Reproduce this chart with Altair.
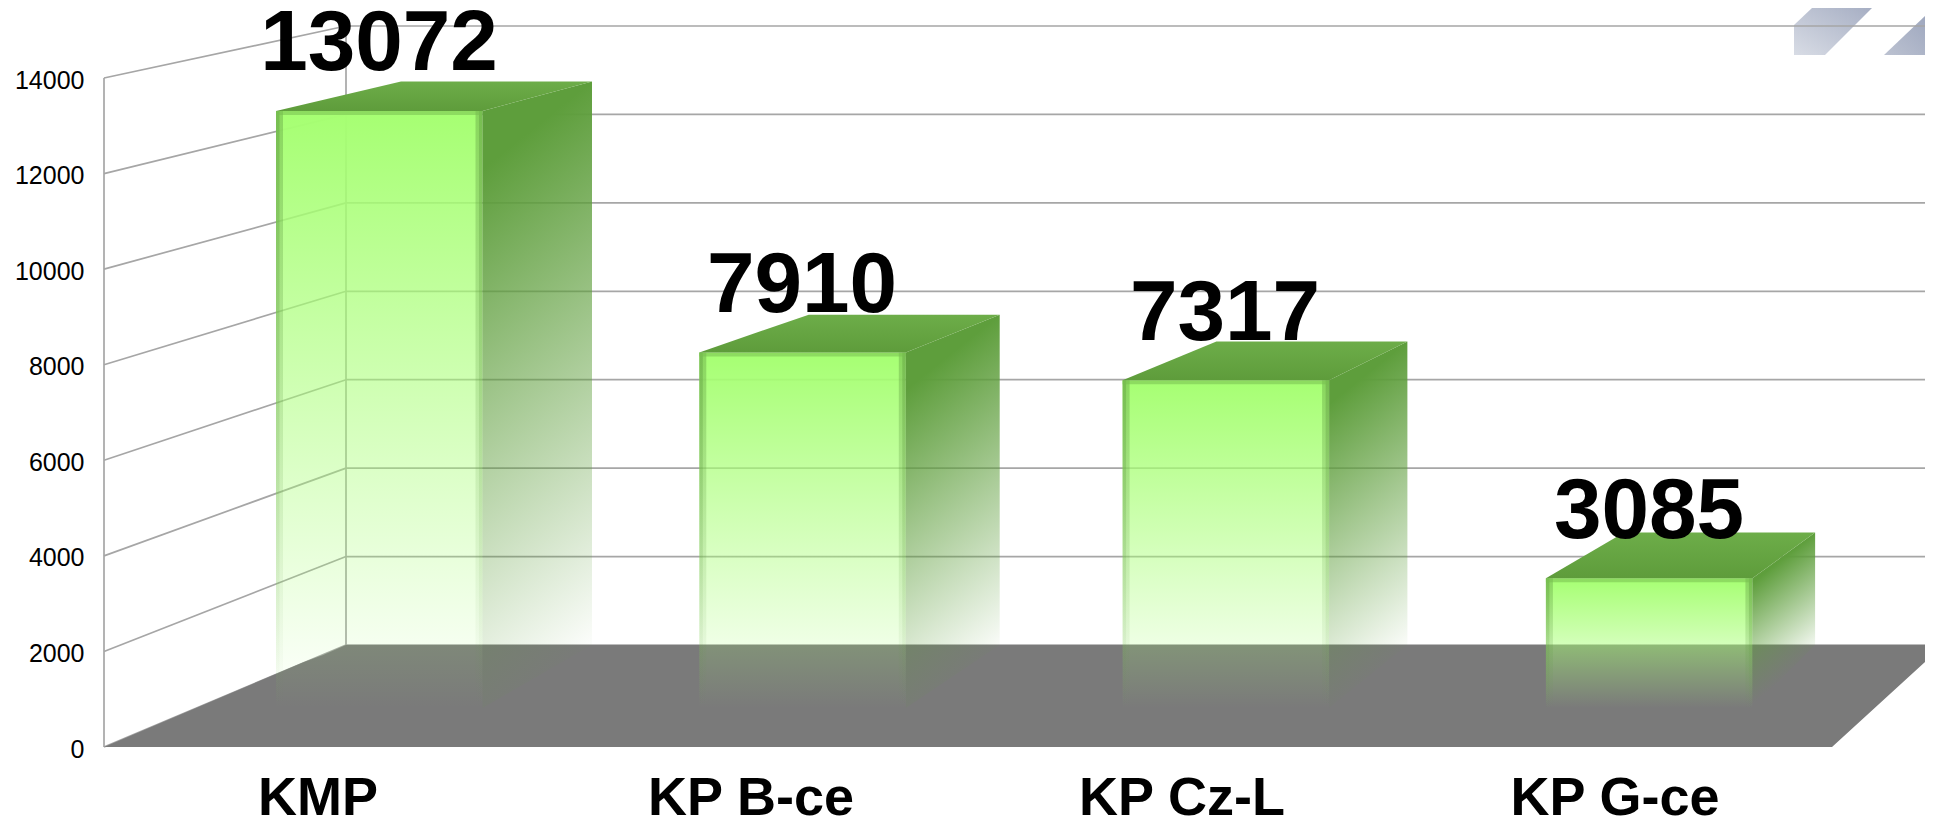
import altair as alt
import pandas as pd

categories = ["KMP", "KP B-ce", "KP Cz-L", "KP G-ce"]
values = [13072, 7910, 7317, 3085]
y_ticks = [0, 2000, 4000, 6000, 8000, 10000, 12000, 14000]

# Projection of the fake 3D scene
K = (747 - 78) / 14000          # px per value on the front plane
KB = (645 - 26) / 14000         # px per value on the back wall
yv = lambda py: (747 - py) / K  # page px -> value units of the y scale
xs = alt.Scale(domain=[104, 1925], range=[0, 1821], nice=False, zero=False)
ys = alt.Scale(domain=[yv(820), yv(8)], nice=False, zero=False)
y_axis = alt.Axis(
    values=y_ticks, title=None, domain=False, ticks=False, grid=False, labelPadding=20, labelOffset=2,
    labelFontSize=25, labelFont="Liberation Sans", labelColor="#000000", format="d", labelFlush=False,
)
X = alt.X("x:Q", scale=xs, axis=None)
Y = alt.Y("y:Q", scale=ys, axis=y_axis)
X2, Y2 = alt.X2("x2:Q"), alt.Y2("y2:Q")


def grad(stops, x1=0, y1=0, x2=0, y2=1):
    return alt.LinearGradient(
        gradient="linear", x1=x1, y1=y1, x2=x2, y2=y2,
        stops=[alt.GradientStop(color=c, offset=o) for o, c in stops],
    )


def hpoly(rows, fill):
    d = pd.DataFrame([{"x": a, "x2": b, "y": yv(p), "g": i}
                      for i, (p, a, b) in enumerate(rows)])
    return alt.Chart(d).mark_area(orient="horizontal", color=fill, line=False).encode(x=X, x2=X2, y=Y)


# walls
wall = pd.concat([
    pd.DataFrame({"x": [104, 346], "y": [t, yv(645 - KB * t)], "g": [f"l{t}", f"l{t}"]}) for t in y_ticks
] + [
    pd.DataFrame({"x": [346, 1925], "y": [yv(645 - KB * t)] * 2, "g": [f"b{t}", f"b{t}"]}) for t in y_ticks
] + [
    pd.DataFrame({"x": [104, 104], "y": [0, 14000], "g": ["v1", "v1"]}),
    pd.DataFrame({"x": [346, 346], "y": [yv(645), yv(26)], "g": ["v2", "v2"]}),
])
wall_layer = alt.Chart(wall).mark_line(color="#a6a6a6", strokeWidth=1.7).encode(x=X, y=Y, detail="g:N")

# decoration
deco1 = hpoly([(55, 1794, 1825), (25, 1794, 1855), (8, 1812, 1872)],
              grad([(0, "#d8dce5"), (1, "#a6aec3")], x1=0, y1=1, x2=1, y2=0))
deco2 = hpoly([(55, 1884, 1925), (16, 1925, 1925)],
              grad([(0, "#bcc2d1"), (1, "#9fa8bf")], x1=0, y1=1, x2=1, y2=0))

# floor
floor = hpoly([(747, 104, 1832), (662, 304, 1925), (655, 323, 1925), (645, 346, 1925)], "#7a7a7a")

# bars
BAR_END = 708
faces, side_layers, top_layers = [], [], []
for i, (c, v) in enumerate(zip(categories, values)):
    fl = 276 + 423.3 * i
    fr = fl + 206.5
    br = 592 + 407.7 * i
    bl = br - 191
    ft = 722.5 - 0.04678 * v
    bt = 672 - 0.04518 * v
    faces.append({"c": c, "fl": fl, "fr": fr, "ft": ft})
    h = BAR_END - bt
    w = br - fr
    a = 0.8 * w / h
    f = (645 - bt) / h
    side_df = pd.DataFrame([
        {"x": fr, "y": yv(ft), "y2": yv(BAR_END)},
        {"x": br, "y": yv(bt), "y2": yv(645)},
    ])
    side_layers.append(alt.Chart(side_df).mark_area(
        line=False,
        color=grad([(0, "#5e9e3c"), (1, "rgba(94,158,60,0)")], x1=1, y1=0, x2=1 + a * f, y2=f),
    ).encode(x=X, y=Y, y2=Y2))
    top_layers.append(hpoly([(ft, fl, fr), (bt, bl, br)],
                            grad([(0, "#6dad49"), (1, "#5e9c3b")])))

face_df = pd.DataFrame([{"x": f["fl"], "x2": f["fr"], "y": yv(f["ft"]), "y2": yv(BAR_END)} for f in faces])
FADE = [(0, "#a6ff72"), (1, "rgba(166,255,114,0)")]
face_layer = alt.Chart(face_df).mark_rect(color=grad(FADE)).encode(x=X, x2=X2, y=Y, y2=Y2)

EDGE = grad([(0, "rgba(90,150,60,0.38)"), (1, "rgba(90,150,60,0)")])
strips = []
for a_, b_ in [(0, 7), (0, 3.5)]:
    strips.append(pd.DataFrame([{"x": f["fl"] + a_, "x2": f["fl"] + b_, "y": yv(f["ft"]), "y2": yv(BAR_END)} for f in faces]))
    strips.append(pd.DataFrame([{"x": f["fr"] - b_, "x2": f["fr"] - a_, "y": yv(f["ft"]), "y2": yv(BAR_END)} for f in faces]))
strip_layers = [alt.Chart(s).mark_rect(color=EDGE).encode(x=X, x2=X2, y=Y, y2=Y2) for s in strips]
top_edge = alt.Chart(pd.DataFrame(
    [{"x": f["fl"], "x2": f["fr"], "y": yv(f["ft"]), "y2": yv(f["ft"] + 4)} for f in faces]
)).mark_rect(color="#78c050", opacity=0.55).encode(x=X, x2=X2, y=Y, y2=Y2)

# texts
val_df = pd.DataFrame({
    "x": [379, 802, 1225, 1649],
    "y": [yv(683 - 0.04686 * v) for v in values],
    "t": [str(v) for v in values],
})
val_layer = alt.Chart(val_df).mark_text(
    font="Liberation Sans", fontWeight="bold", fontSize=85.5, color="#000000",
    align="center", baseline="alphabetic",
).encode(x=X, y=Y, text="t:N")

cat_df = pd.DataFrame({"x": [318, 751, 1182, 1615], "y": [yv(815)] * 4, "t": categories})
cat_layer = alt.Chart(cat_df).mark_text(
    font="Liberation Sans", fontWeight="bold", fontSize=54, color="#000000",
    align="center", baseline="alphabetic",
).encode(x=X, y=Y, text="t:N")

chart = alt.layer(
    deco1, deco2, wall_layer, floor, face_layer, *strip_layers, top_edge, *side_layers,
    *top_layers, val_layer, cat_layer,
).properties(
    width=1821, height=812,
    autosize=alt.AutoSizeParams(type="none"),
    padding={"left": 96, "top": 0, "right": 0, "bottom": 0},
    background="#ffffff",
).configure_view(stroke=None)

chart.save("out.html", embed_options={"renderer": "svg", "actions": False})
